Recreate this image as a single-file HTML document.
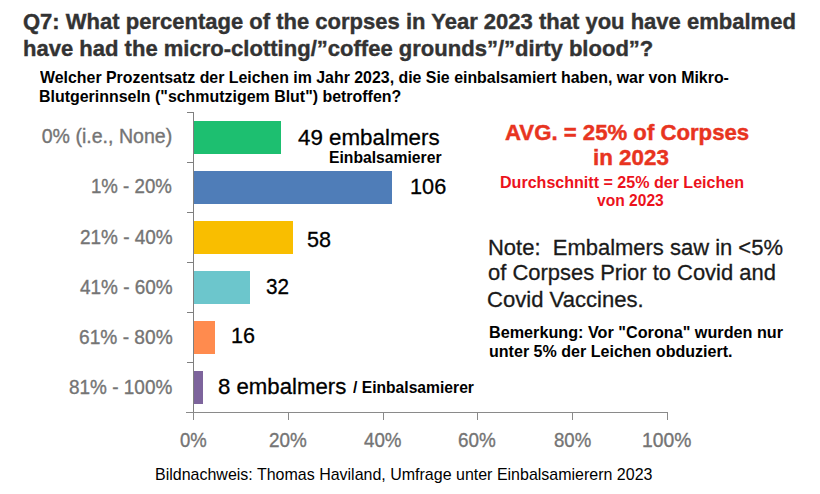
<!DOCTYPE html>
<html><head><meta charset="utf-8"><style>
html,body{margin:0;padding:0;background:#fff;width:820px;height:494px;overflow:hidden}
.t{position:absolute;white-space:pre;font-family:"Liberation Sans",sans-serif;line-height:normal;transform-origin:0 0}
.b{position:absolute}
</style></head><body>
<div class="b" style="left:194px;top:121px;width:87px;height:33px;background:#1dbf70"></div>
<div class="b" style="left:194px;top:171px;width:198px;height:33px;background:#4f7db8"></div>
<div class="b" style="left:194px;top:221px;width:98.5px;height:33px;background:#f9be00"></div>
<div class="b" style="left:194px;top:271px;width:56px;height:33px;background:#6cc6cc"></div>
<div class="b" style="left:194px;top:321px;width:21px;height:33px;background:#ff8b4e"></div>
<div class="b" style="left:194px;top:371px;width:9px;height:33px;background:#7d649c"></div>
<div class="b" style="left:193px;top:112px;width:1px;height:301px;background:#7f7f7f"></div>
<div class="b" style="left:187px;top:112px;width:6px;height:1px;background:#7f7f7f"></div>
<div class="b" style="left:187px;top:162px;width:6px;height:1px;background:#7f7f7f"></div>
<div class="b" style="left:187px;top:212px;width:6px;height:1px;background:#7f7f7f"></div>
<div class="b" style="left:187px;top:262px;width:6px;height:1px;background:#7f7f7f"></div>
<div class="b" style="left:187px;top:312px;width:6px;height:1px;background:#7f7f7f"></div>
<div class="b" style="left:187px;top:362px;width:6px;height:1px;background:#7f7f7f"></div>
<div class="b" style="left:186px;top:412px;width:482px;height:1px;background:#8a8a8a"></div>
<div class="b" style="left:193px;top:412px;width:1px;height:8px;background:#8a8a8a"></div>
<div class="b" style="left:288px;top:412px;width:1px;height:8px;background:#8a8a8a"></div>
<div class="b" style="left:383px;top:412px;width:1px;height:8px;background:#8a8a8a"></div>
<div class="b" style="left:477px;top:412px;width:1px;height:8px;background:#8a8a8a"></div>
<div class="b" style="left:572px;top:412px;width:1px;height:8px;background:#8a8a8a"></div>
<div class="b" style="left:667px;top:412px;width:1px;height:8px;background:#8a8a8a"></div>
<div class="t" style="left:23.40px;top:9.30px;font-size:22.32px;font-weight:700;color:#333333;transform:scaleX(0.9867);-webkit-text-stroke:0.4px #333">Q7: What percentage of the corpses in Year 2023 that you have embalmed</div>
<div class="t" style="left:23.31px;top:35.50px;font-size:22.32px;font-weight:700;color:#333333;transform:scaleX(0.9873);-webkit-text-stroke:0.4px #333">have had the micro-clotting/”coffee grounds”/”dirty blood”?</div>
<div class="t" style="left:39.50px;top:67.90px;font-size:16.96px;font-weight:700;color:#000;transform:scaleX(0.9387);">Welcher Prozentsatz der Leichen im Jahr 2023, die Sie einbalsamiert haben, war von Mikro-</div>
<div class="t" style="left:38.56px;top:86.80px;font-size:16.96px;font-weight:700;color:#000;transform:scaleX(0.9411);">Blutgerinnseln ("schmutzigem Blut") betroffen?</div>
<div class="t" style="left:41.70px;top:125.30px;font-size:19.57px;font-weight:400;color:#747474;-webkit-text-stroke:0.35px #747474">0% (i.e., None)</div>
<div class="t" style="left:91.05px;top:175.00px;font-size:19.57px;font-weight:400;color:#747474;transform:scaleX(0.9530);-webkit-text-stroke:0.35px #747474">1% - 20%</div>
<div class="t" style="left:79.70px;top:226.10px;font-size:19.57px;font-weight:400;color:#747474;transform:scaleX(0.9685);-webkit-text-stroke:0.35px #747474">21% - 40%</div>
<div class="t" style="left:79.70px;top:275.70px;font-size:19.57px;font-weight:400;color:#747474;transform:scaleX(0.9685);-webkit-text-stroke:0.35px #747474">41% - 60%</div>
<div class="t" style="left:78.72px;top:325.80px;font-size:19.57px;font-weight:400;color:#747474;transform:scaleX(0.9788);-webkit-text-stroke:0.35px #747474">61% - 80%</div>
<div class="t" style="left:69.10px;top:375.70px;font-size:19.57px;font-weight:400;color:#747474;transform:scaleX(0.9691);-webkit-text-stroke:0.35px #747474">81% - 100%</div>
<div class="t" style="left:298.00px;top:125.00px;font-size:22.57px;font-weight:400;color:#000;transform:scaleX(0.9904);-webkit-text-stroke:0.3px #000">49 embalmers</div>
<div class="t" style="left:409.74px;top:173.90px;font-size:22.57px;font-weight:400;color:#000;transform:scaleX(0.9613);-webkit-text-stroke:0.3px #000">106</div>
<div class="t" style="left:307.30px;top:226.80px;font-size:22.57px;font-weight:400;color:#000;transform:scaleX(0.9573);-webkit-text-stroke:0.3px #000">58</div>
<div class="t" style="left:265.70px;top:274.40px;font-size:22.57px;font-weight:400;color:#000;transform:scaleX(0.9166);-webkit-text-stroke:0.3px #000">32</div>
<div class="t" style="left:230.64px;top:322.90px;font-size:22.57px;font-weight:400;color:#000;transform:scaleX(0.9555);-webkit-text-stroke:0.3px #000">16</div>
<div class="t" style="left:218.00px;top:373.90px;font-size:22.57px;font-weight:400;color:#000;transform:scaleX(0.9837);-webkit-text-stroke:0.3px #000">8 embalmers</div>
<div class="t" style="left:329.03px;top:148.30px;font-size:16.23px;font-weight:700;color:#000;transform:scaleX(0.9674);">Einbalsamierer</div>
<div class="t" style="left:353.30px;top:377.70px;font-size:16.23px;font-weight:700;color:#000;transform:scaleX(0.9651);">/ Einbalsamierer</div>
<div class="t" style="left:505.10px;top:119.90px;font-size:22.57px;font-weight:700;color:#e8341f;transform:scaleX(0.9826);-webkit-text-stroke:0.45px #e8341f">AVG. = 25% of Corpses</div>
<div class="t" style="left:592.61px;top:145.10px;font-size:22.57px;font-weight:700;color:#e8341f;transform:scaleX(0.9911);-webkit-text-stroke:0.45px #e8341f">in 2023</div>
<div class="t" style="left:499.89px;top:173.70px;font-size:15.94px;font-weight:700;color:#ec121c;transform:scaleX(1.0075);">Durchschnitt = 25% der Leichen</div>
<div class="t" style="left:596.80px;top:192.40px;font-size:15.94px;font-weight:700;color:#ec121c;transform:scaleX(0.9787);">von 2023</div>
<div class="t" style="left:487.50px;top:234.60px;font-size:21.88px;font-weight:400;color:#1a1a1a;transform:scaleX(1.0046);-webkit-text-stroke:0.3px #1a1a1a">Note:  Embalmers saw in &lt;5%</div>
<div class="t" style="left:488.30px;top:260.30px;font-size:21.88px;font-weight:400;color:#1a1a1a;transform:scaleX(1.0032);-webkit-text-stroke:0.3px #1a1a1a">of Corpses Prior to Covid and</div>
<div class="t" style="left:487.49px;top:286.90px;font-size:21.88px;font-weight:400;color:#1a1a1a;transform:scaleX(1.0089);-webkit-text-stroke:0.3px #1a1a1a">Covid Vaccines.</div>
<div class="t" style="left:489.01px;top:322.70px;font-size:16.38px;font-weight:700;color:#000;transform:scaleX(0.9902);">Bemerkung: Vor "Corona" wurden nur</div>
<div class="t" style="left:489.02px;top:342.00px;font-size:16.38px;font-weight:700;color:#000;transform:scaleX(0.9813);">unter 5% der Leichen obduziert.</div>
<div class="t" style="left:155.16px;top:464.60px;font-size:16.96px;font-weight:400;color:#000;transform:scaleX(0.9441);">Bildnachweis: Thomas Haviland, Umfrage unter Einbalsamierern 2023</div>
<div class="t" style="left:180.15px;top:427.80px;font-size:20.57px;font-weight:400;color:#747474;transform:scaleX(0.9003);-webkit-text-stroke:0.35px #747474">0%</div>
<div class="t" style="left:268.98px;top:427.80px;font-size:20.57px;font-weight:400;color:#747474;transform:scaleX(0.9179);-webkit-text-stroke:0.35px #747474">20%</div>
<div class="t" style="left:363.85px;top:427.80px;font-size:20.57px;font-weight:400;color:#747474;transform:scaleX(0.9126);-webkit-text-stroke:0.35px #747474">40%</div>
<div class="t" style="left:458.18px;top:427.80px;font-size:20.57px;font-weight:400;color:#747474;transform:scaleX(0.9179);-webkit-text-stroke:0.35px #747474">60%</div>
<div class="t" style="left:553.70px;top:427.80px;font-size:20.57px;font-weight:400;color:#747474;transform:scaleX(0.9053);-webkit-text-stroke:0.35px #747474">80%</div>
<div class="t" style="left:642.36px;top:427.80px;font-size:20.57px;font-weight:400;color:#747474;transform:scaleX(0.9394);-webkit-text-stroke:0.35px #747474">100%</div>
</body></html>
